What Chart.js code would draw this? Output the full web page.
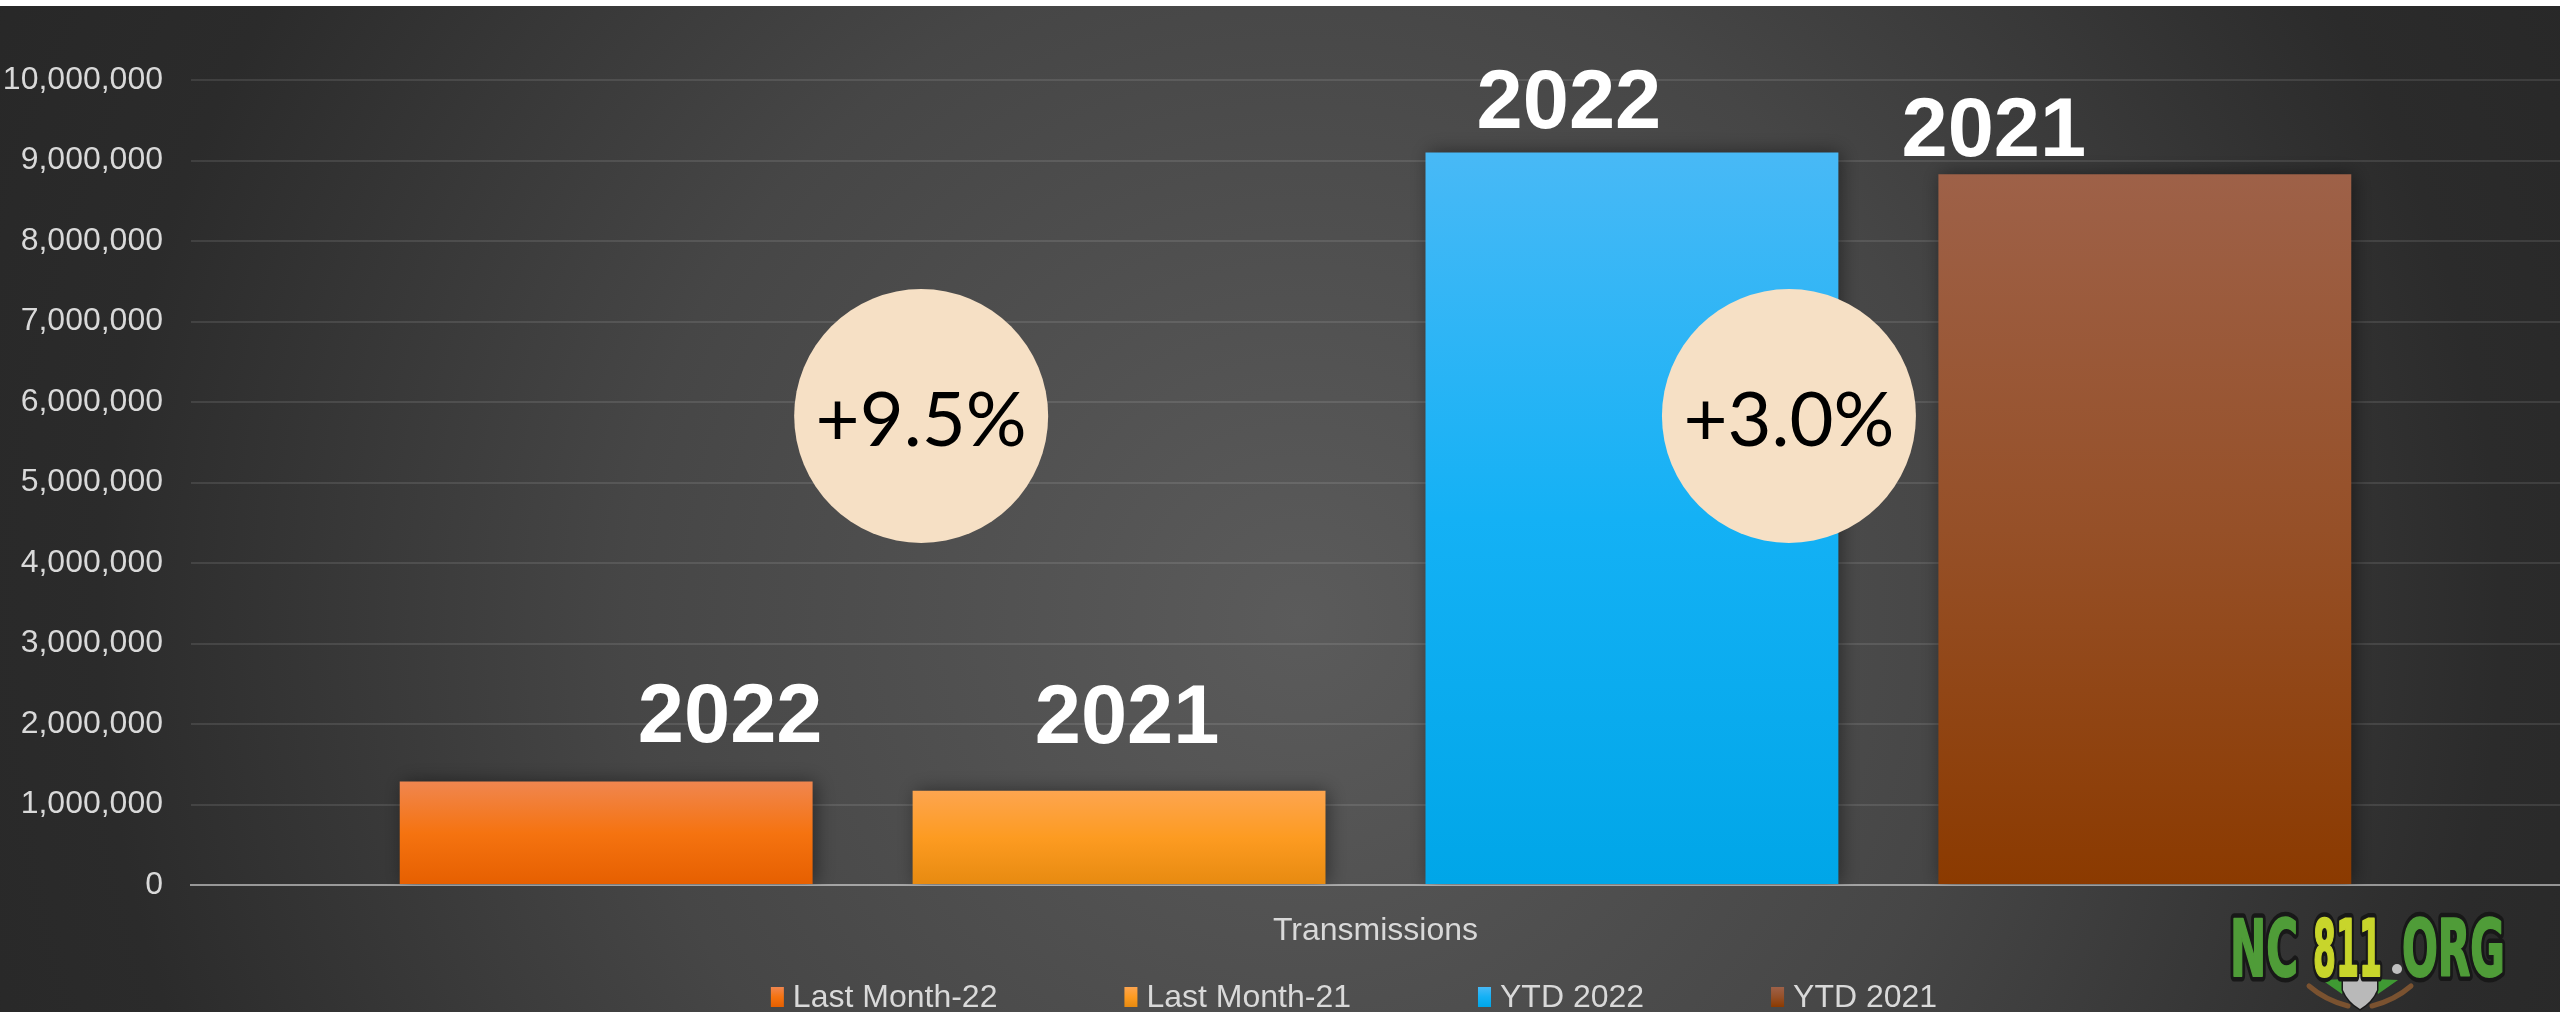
<!DOCTYPE html>
<html>
<head>
<meta charset="utf-8">
<script src="https://cdn.jsdelivr.net/npm/chart.js@4.4.0/dist/chart.umd.min.js"></script>
<style>
  html, body { margin: 0; padding: 0; background: #2a2a2a; }
  #wrap { width: 2560px; height: 1012px; }
</style>
</head>
<body>
<div id="wrap"><canvas id="chart" width="2560" height="1012"></canvas></div>
<script>
// data
const categories = ['Transmissions'];
const seriesNames = ['Last Month-22', 'Last Month-21', 'YTD 2022', 'YTD 2021'];
const lastMonth22 = [1285000];
const lastMonth21 = [1170000];
const ytd2022 = [9100000];
const ytd2021 = [8830000];
const barYears = ['2022', '2021', '2022', '2021'];
const changeLabels = ['+9.5%', '+3.0%'];

// gradient stops (top, middle, bottom) per series
const barStops = [
  ['#f0864f', '#f57310', '#e65f00'],
  ['#fda54f', '#fd9b21', '#e78a10'],
  ['#48b9f6', '#14b1f5', '#00a6e8'],
  ['#9e6148', '#965028', '#8b3a00']
];

const tickFont = { family: '"Liberation Sans", Arial, sans-serif', size: 32 };
const textGray = '#d9d9d9';

function barFill(ctx) {
  const chart = ctx.chart;
  const stops = barStops[ctx.datasetIndex];
  if (!chart.chartArea || ctx.type !== 'data') return stops[1];
  const y = chart.scales.y;
  const top = y.getPixelForValue(ctx.raw);
  const base = y.getPixelForValue(0);
  const g = chart.ctx.createLinearGradient(0, top, 0, base);
  g.addColorStop(0, stops[0]);
  g.addColorStop(0.5, stops[1]);
  g.addColorStop(1, stops[2]);
  return g;
}

const background = {
  id: 'background',
  beforeDraw(chart) {
    const c = chart.ctx;
    c.save();
    const g = c.createRadialGradient(1300, 620, 0, 1300, 620, 1500);
    g.addColorStop(0, '#5b5b5b');
    g.addColorStop(0.45, '#464646');
    g.addColorStop(0.8, '#2b2b2b');
    g.addColorStop(1, '#272727');
    c.fillStyle = g;
    c.fillRect(0, 0, chart.width, chart.height);
    c.fillStyle = '#ffffff';
    c.fillRect(0, 0, chart.width, 6);
    c.restore();
  }
};

const barShadow = {
  id: 'barShadow',
  beforeDatasetsDraw(chart) {
    const c = chart.ctx;
    c.save();
    c.shadowColor = 'rgba(0,0,0,0.45)';
    c.shadowBlur = 18;
    c.shadowOffsetX = 3;
  },
  afterDatasetsDraw(chart) {
    chart.ctx.restore();
  }
};

// year captions and percentage bubbles, placed from the bar elements
const callouts = {
  id: 'callouts',
  afterDraw(chart) {
    const c = chart.ctx;
    const bars = chart.data.datasets.map((d, i) => chart.getDatasetMeta(i).data[0]);
    const shift = [[124, -40], [8, -48], [-63, -24], [-151, -18]];
    c.save();
    c.fillStyle = '#ffffff';
    c.font = 'bold 83px "Liberation Sans", Arial, sans-serif';
    c.textAlign = 'center';
    c.textBaseline = 'alphabetic';
    bars.forEach((b, i) => {
      c.fillText(barYears[i], b.x + shift[i][0], b.y + shift[i][1]);
    });

    const cy = chart.chartArea.top + 336;
    const centers = [bars[0].x + 315, bars[2].x + 157];
    centers.forEach((cx, i) => {
      c.beginPath();
      c.arc(cx, cy, 127, 0, Math.PI * 2);
      c.fillStyle = '#f6e0c5';
      c.fill();
      c.fillStyle = '#000000';
      c.font = '76px Lato, "Open Sans", sans-serif';
      c.fillText(changeLabels[i], cx, cy + 30);
    });
    c.restore();
  }
};

const customLegend = {
  id: 'customLegend',
  afterDraw(chart) {
    const c = chart.ctx;
    c.save();
    c.font = '32px "Liberation Sans", Arial, sans-serif';
    c.textBaseline = 'middle';
    c.textAlign = 'left';
    const boxW = 13, boxH = 20, gap = 9, itemGap = 127;
    const widths = chart.data.datasets.map(d => boxW + gap + c.measureText(d.label).width);
    const total = widths.reduce((a, b) => a + b, 0) + itemGap * (widths.length - 1);
    let x = 1354 - total / 2;
    const y = 997;
    chart.data.datasets.forEach((d, i) => {
      const s = barStops[i];
      const g = c.createLinearGradient(0, y - boxH / 2, 0, y + boxH / 2);
      g.addColorStop(0, s[0]);
      g.addColorStop(0.5, s[1]);
      g.addColorStop(1, s[2]);
      c.fillStyle = g;
      c.fillRect(x, y - boxH / 2, boxW, boxH);
      c.fillStyle = textGray;
      c.fillText(d.label, x + boxW + gap, y + 1);
      x += widths[i] + itemGap;
    });
    c.restore();
  }
};

const logo = {
  id: 'logo',
  afterDraw(chart) {
    const c = chart.ctx;
    c.save();
    // shovel
    c.lineCap = 'round';
    c.strokeStyle = '#7a5230';
    c.lineWidth = 5;
    c.beginPath();
    c.moveTo(2309, 986); c.quadraticCurveTo(2325, 1000, 2348, 1006);
    c.moveTo(2411, 986); c.quadraticCurveTo(2395, 1000, 2372, 1006);
    c.stroke();
    c.fillStyle = '#3f9a33';
    c.beginPath();
    c.moveTo(2322, 980); c.lineTo(2346, 979); c.lineTo(2342, 994); c.closePath();
    c.moveTo(2398, 980); c.lineTo(2374, 979); c.lineTo(2378, 994); c.closePath();
    c.fill();
    c.fillStyle = '#b9b9b9';
    c.strokeStyle = '#1a1a1a';
    c.lineWidth = 3;
    c.beginPath();
    c.moveTo(2343, 974); c.lineTo(2377, 974); c.lineTo(2377, 990);
    c.quadraticCurveTo(2372, 1002, 2360, 1009);
    c.quadraticCurveTo(2348, 1002, 2343, 990); c.closePath();
    c.stroke(); c.fill();

    // lettering
    const parts = [
      { t: 'NC', x: 2230, w: 68, col: '#4f9c38' },
      { t: '811', x: 2313, w: 69, col: '#c8d52b' },
      { t: 'ORG', x: 2402, w: 103, col: '#4f9c38' }
    ];
    c.font = 'bold 78px "Liberation Sans Narrow", "DejaVu Sans Condensed", sans-serif';
    c.textBaseline = 'alphabetic';
    c.textAlign = 'left';
    c.lineJoin = 'round';
    parts.forEach(p => {
      const mw = c.measureText(p.t).width;
      c.save();
      c.translate(p.x, 976);
      c.scale(p.w / mw, 1);
      c.strokeStyle = '#181818';
      c.lineWidth = 11;
      c.strokeText(p.t, 0, 0);
      c.fillStyle = p.col;
      c.lineWidth = 2;
      c.strokeStyle = p.col;
      c.strokeText(p.t, 0, 0);
      c.fillText(p.t, 0, 0);
      c.restore();
    });
    c.beginPath();
    c.arc(2397, 969, 5, 0, Math.PI * 2);
    c.fillStyle = '#c0c0c0';
    c.fill();
    c.restore();
  }
};

const datasets = [lastMonth22, lastMonth21, ytd2022, ytd2021].map((vals, i) => ({
  label: seriesNames[i],
  data: vals,
  backgroundColor: barFill,
  borderWidth: 0,
  categoryPercentage: 0.866,
  barPercentage: 0.805
}));

new Chart(document.getElementById('chart'), {
  type: 'bar',
  data: { labels: categories, datasets: datasets },
  options: {
    responsive: false,
    animation: false,
    devicePixelRatio: 1,
    layout: { padding: { top: 80, left: 3, right: 0, bottom: 70 } },
    plugins: {
      legend: { display: false },
      tooltip: { enabled: false }
    },
    scales: {
      x: {
        z: 1,
        grid: { display: false },
        border: { display: true, color: 'rgba(255,255,255,0.5)', width: 2 },
        ticks: { color: textGray, font: tickFont, padding: 19 },
        afterFit: scale => { scale.height = 57; }
      },
      y: {
        min: 0,
        max: 10000000,
        grid: {
          color: ctx => ctx.tick && ctx.tick.value === 0 ? 'rgba(0,0,0,0)' : 'rgba(255,255,255,0.1)',
          lineWidth: 2,
          drawTicks: false
        },
        border: { display: false },
        ticks: {
          stepSize: 1000000,
          color: textGray,
          font: tickFont,
          padding: 28,
          callback: v => v.toLocaleString('en-US')
        },
        afterFit: scale => { scale.width = 188; }
      }
    }
  },
  plugins: [background, barShadow, callouts, customLegend, logo]
});
</script>
</body>
</html>
